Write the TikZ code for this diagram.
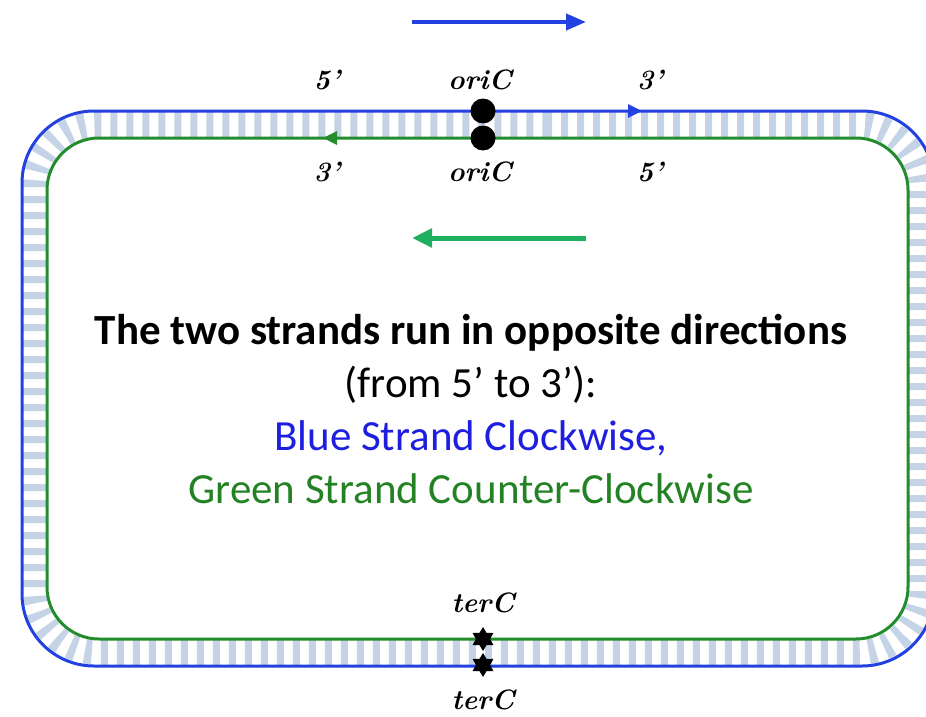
\documentclass[tikz,border=0pt]{standalone}
\usepackage{fontspec}
\newfontfamily\calfont{Carlito}
\definecolor{strandblue}{RGB}{35,65,225}
\definecolor{strandgreen}{RGB}{35,140,45}
\definecolor{arrowgreen}{RGB}{30,175,95}
\definecolor{rungblue}{RGB}{196,212,230}
\definecolor{textblue}{RGB}{30,30,225}
\definecolor{textgreen}{RGB}{35,130,35}
\usetikzlibrary{arrows.meta, decorations.markings, shapes.geometric, positioning}

\tikzset{
  strandlabel/.style={font=\fontsize{28}{32}\selectfont\bfseries\itshape, inner sep=1pt},
  orimark/.style={circle, fill=black, inner sep=0pt, minimum size=25pt},
  termark/.style={star, star points=6, star point ratio=1.7, fill=black, inner sep=0pt, minimum size=24pt},
  midtext/.style={font=\calfont\fontsize{43}{53}\selectfont, align=center},
  strandtip/.style={decoration={markings, mark=at position #1 with {\arrow{Triangle[length=14pt,width=13pt]}}}, postaction={decorate}},
}

\begin{document}
\begin{tikzpicture}[x=1pt,y=-1pt]
  \useasboundingbox (0,0) rectangle (926,717);
  % rungs between the strands
  \draw[rungblue, line width=25pt, dash pattern=on 7pt off 9pt, rounded corners=62pt]
    (483,124.5) -- (921,124.5) -- (921,652.5) -- (34.5,652.5) -- (34.5,124.5) -- cycle;
  % blue strand, clockwise
  \draw[strandblue, line width=3pt, rounded corners=72pt, strandtip=87pt]
    (483,111) -- (934,111) -- (934,666) -- (22,666) -- (22,111) -- cycle;
  % green strand, counter-clockwise
  \draw[strandgreen, line width=3pt, rounded corners=52pt, strandtip=108pt]
    (483,138) -- (47,138) -- (47,639) -- (908,639) -- (908,138) -- cycle;

  % direction arrows
  \coordinate (blueL) at (412,22);
  \coordinate (blueR) at (586,22);
  \coordinate (greenL) at (412,238);
  \coordinate (greenR) at (586,238);
  \draw[strandblue, line width=4pt, -{Triangle[length=20pt,width=16pt]}] (blueL) -- (blueR);
  \draw[arrowgreen, line width=5pt, -{Triangle[length=20pt,width=18pt]}] (greenR) -- (greenL);

  % origin and terminus
  \node[orimark] (oriblue) at (483,111) {};
  \node[orimark] (origreen) at (483,138) {};
  \node[termark] (tergreen) at (483,639) {};
  \node[termark] (terblue) at (483,665) {};

  \node[strandlabel] (oritop) at (480,80) {oriC};
  \node[strandlabel] (fivetop) at (327,80) {5’};
  \node[strandlabel] (threetop) at (650,80) {3’};
  \node[strandlabel] (oribot) at (480,172) {oriC};
  \node[strandlabel] (threebot) at (327,172) {3’};
  \node[strandlabel] (fivebot) at (650,172) {5’};
  \node[strandlabel] (tertop) at (483,603) {terC};
  \node[strandlabel] (terbot) at (483,700) {terC};

  \node[midtext] (caption) at (471,409) {\textbf{The two strands run in opposite directions}\\
    (from 5’ to 3’):\\
    \textcolor{textblue}{Blue Strand Clockwise,}\\
    \textcolor{textgreen}{Green Strand Counter-Clockwise}};
\end{tikzpicture}
\end{document}
